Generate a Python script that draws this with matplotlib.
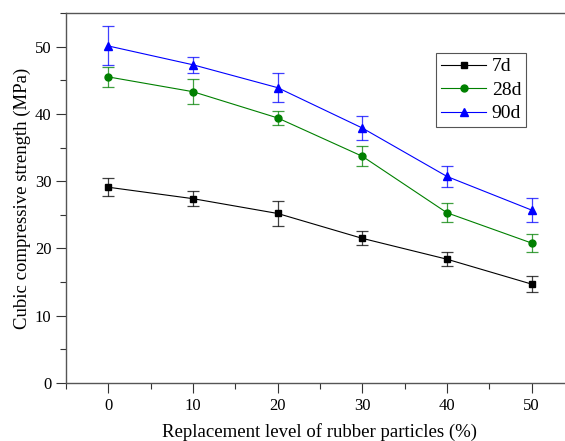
import matplotlib
matplotlib.use("Agg")
import matplotlib.pyplot as plt
from matplotlib.ticker import MultipleLocator

plt.rcParams['font.family'] = ['Liberation Serif', 'DejaVu Serif']

levels = [0, 10, 20, 30, 40, 50]
s7 = [29.1, 27.4, 25.2, 21.5, 18.4, 14.7]
e7 = [1.3, 1.15, 1.9, 1.05, 1.05, 1.15]
s28 = [45.5, 43.3, 39.4, 33.7, 25.3, 20.8]
e28 = [1.5, 1.9, 1.1, 1.5, 1.4, 1.4]
s90 = [50.1, 47.3, 43.9, 37.9, 30.7, 25.7]
e90 = [2.9, 1.2, 2.15, 1.85, 1.6, 1.8]

fig = plt.figure(figsize=(5.65, 4.41), dpi=100)
ax = fig.add_axes([66 / 565, 58 / 441, 508 / 565, 370 / 441])

series = [
    ("7d", s7, e7, "black", "s", 4.5),
    ("28d", s28, e28, "green", "o", 5),
    ("90d", s90, e90, "blue", "^", 5.5),
]
for name, vals, errs, col, mk, ms in series:
    ax.errorbar(levels, vals, yerr=errs, fmt='none', elinewidth=0.9,
                capsize=4.5, capthick=0.9, ecolor=col, alpha=0.75)
    ax.plot(levels, vals, color=col, marker=mk, markersize=ms,
            linewidth=0.8, alpha=1, label=name)

ax.set_xlim(-5, 55)
ax.set_ylim(0, 55)
ax.xaxis.set_major_locator(MultipleLocator(10))
ax.xaxis.set_minor_locator(MultipleLocator(5))
ax.yaxis.set_major_locator(MultipleLocator(10))
ax.yaxis.set_minor_locator(MultipleLocator(5))
ax.tick_params(which='major', direction='out', length=7, width=0.8, colors='#333333', labelsize=12, labelcolor='black')
ax.tick_params(which='minor', direction='out', length=4, width=0.8, colors='#333333')
for sp in ax.spines.values():
    sp.set_color('#555555')
    sp.set_linewidth(1)

ax.set_xlabel("Replacement level of rubber particles (%)", fontsize=13.5, labelpad=7)
ax.set_ylabel("Cubic compressive strength (MPa)", fontsize=13.5, labelpad=3)

leg = ax.legend(loc='upper left', bbox_to_anchor=(0.729, 0.892), fontsize=14,
                fancybox=False, framealpha=1, edgecolor='#555555',
                handlelength=2.3, handletextpad=0.3, borderpad=0.25,
                labelspacing=0.3, borderaxespad=0)
leg.get_frame().set_linewidth(0.8)

fig.savefig("out.png", dpi=100)
